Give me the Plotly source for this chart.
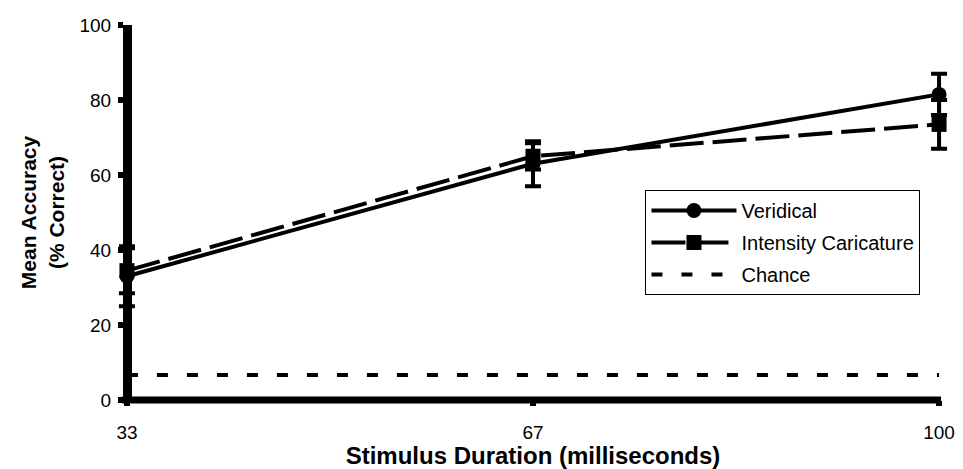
import plotly.graph_objects as go

durations = ["33", "67", "100"]
veridical = [33, 63, 81.5]
veridical_err = [8, 6, 5.5]
intensity = [34.5, 65, 73.5]
intensity_err = [6, 3.5, 6.5]
chance = [6.67, 6.67, 6.67]

# layout geometry (pixels)
W, H = 963, 469
ML, MR, MT, MB = 115, 8, 25, 69
PAD = 12  # room beside the first/last category so error-bar caps are not clipped
plot_w = W - ML - MR
unit = (plot_w - 2 * PAD) / (len(durations) - 1)
ext = PAD / unit

fig = go.Figure()
fig.add_trace(go.Scatter(
    x=durations, y=veridical, name="Veridical", mode="lines+markers", legendgroup="a",
    line=dict(color="black", width=4),
    marker=dict(symbol="circle", size=15, color="black"),
    error_y=dict(type="data", array=veridical_err, color="black", thickness=4, width=8),
    cliponaxis=False,
))
fig.add_trace(go.Scatter(
    x=durations, y=intensity, name="Intensity Caricature", mode="lines+markers", legendgroup="b",
    line=dict(color="black", width=4, dash="34px,9px"),
    marker=dict(symbol="square", size=15, color="black"),
    error_y=dict(type="data", array=intensity_err, color="black", thickness=4, width=8),
    cliponaxis=False,
))
fig.add_trace(go.Scatter(
    x=durations, y=chance, name="Chance", mode="lines", legendgroup="c",
    line=dict(color="black", width=4, dash="11px,19px"),
    cliponaxis=False,
))

# x axis baseline from the first to the last category (paper coordinates)
x_first = (PAD - 5) / plot_w
x_last = (plot_w - PAD + 2) / plot_w
fig.add_shape(type="line", xref="paper", yref="paper",
              x0=x_first, x1=x_last, y0=0, y1=0,
              line=dict(color="black", width=7), layer="above")

fig.update_layout(
    width=W, height=H,
    margin=dict(l=ML, r=MR, t=MT, b=MB),
    paper_bgcolor="white", plot_bgcolor="white",
    font=dict(family="Liberation Sans, Arial, sans-serif", size=18, color="black"),
    showlegend=True,
    legend=dict(
        x=(648 - ML) / plot_w, y=0.56, xanchor="left", yanchor="top",
        bordercolor="black", borderwidth=1, bgcolor="white",
        font=dict(size=20), itemwidth=85, tracegroupgap=3,
    ),
    xaxis=dict(
        type="category", range=[-ext, (len(durations) - 1) + ext],
        showline=False,
        ticks="outside", ticklen=5, tickwidth=6, tickcolor="black",
        ticklabelstandoff=10,
        showgrid=False, zeroline=False,
        title=dict(text="<b>Stimulus Duration (milliseconds)</b>", font=dict(size=24), standoff=0),
        tickfont=dict(size=19),
    ),
    yaxis=dict(
        range=[0, 100], tickvals=[0, 20, 40, 60, 80, 100],
        anchor="free", position=PAD / plot_w,
        showline=True, linecolor="black", linewidth=9,
        ticks="outside", ticklen=5, tickwidth=6, tickcolor="black",
        ticklabelstandoff=3,
        showgrid=False, zeroline=False,
        title=dict(text="<b>Mean Accuracy<br>(% Correct)</b>", font=dict(size=21), standoff=8),
        tickfont=dict(size=19),
    ),
)

fig.write_html("out.html")
